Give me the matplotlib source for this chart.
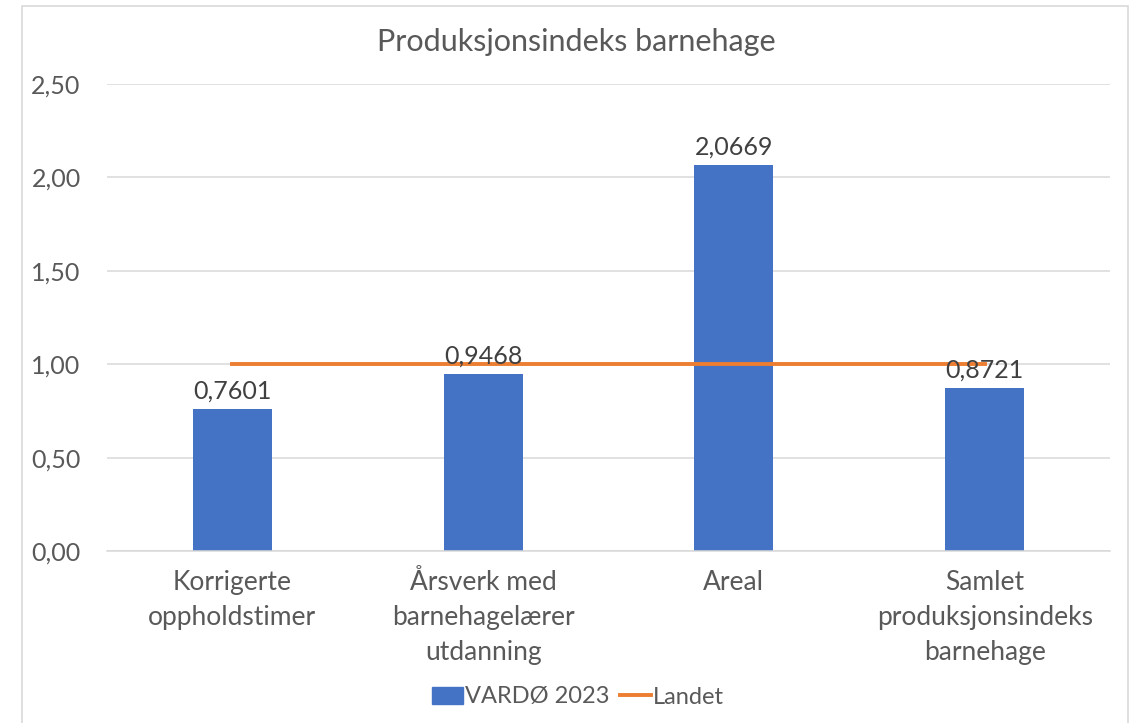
import matplotlib
matplotlib.use("Agg")
import matplotlib.pyplot as plt
from matplotlib.patches import Rectangle
from matplotlib.lines import Line2D

kategorier = ["Korrigerte\noppholdstimer", "Årsverk med\nbarnehagelærer\nutdanning",
              "Areal", "Samlet\nproduksjonsindeks\nbarnehage"]
vardo_2023 = [0.7601, 0.9468, 2.0669, 0.8721]
landet = [1.0, 1.0, 1.0, 1.0]
y_ticks = [0.0, 0.5, 1.0, 1.5, 2.0, 2.5]

plt.rcParams['font.family'] = ['Lato', 'DejaVu Sans']
tekst = '#595959'

fig = plt.figure(figsize=(11.35, 7.23), dpi=100)
ax = fig.add_axes([0.0943, 0.2379, 0.8837, 0.6459])

# ramme rundt hele diagrammet
fig.patches.append(Rectangle((22/1135, -0.01), (1128-22)/1135, (717)/723 + 0.01,
                             transform=fig.transFigure, fill=False,
                             edgecolor='#d9d9d9', linewidth=1.2))

x = range(len(kategorier))
ax.bar(x, vardo_2023, width=0.315, color='#4472c4', zorder=2)
ax.plot(list(x), landet, color='#ed7d31', linewidth=2.8, zorder=3)

for i, v in enumerate(vardo_2023):
    ax.text(i, v + 0.035, f"{v:.4f}".replace('.', ','), ha='center', va='bottom',
            fontsize=18, color='#404040', zorder=4)

ax.set_xlim(-0.5, 3.5)
ax.set_ylim(0, 2.5)
ax.set_yticks(y_ticks)
ax.set_yticklabels([f"{t:.2f}".replace('.', ',') for t in y_ticks])
ax.set_xticks(list(x))
ax.set_xticklabels(kategorier, linespacing=1.5)
ax.tick_params(axis='both', length=0, labelsize=18, labelcolor=tekst)
ax.tick_params(axis='x', labelsize=19, pad=14)
ax.tick_params(axis='y', pad=19)
ax.grid(axis='y', color='#d9d9d9', linewidth=1.1, zorder=0)
for s in ['top', 'right', 'left']:
    ax.spines[s].set_visible(False)
ax.spines['bottom'].set_color('#d9d9d9')
ax.spines['bottom'].set_linewidth(1.1)

fig.text(576/1135, 1 - 42/723, "Produksjonsindeks barnehage", ha='center', va='center',
         fontsize=22, color=tekst)

handles = [Rectangle((0, 0), 1, 1, color='#4472c4'),
           Line2D([0], [0], color='#ed7d31', linewidth=2.8)]
fig.legend(handles, ["VARDØ 2023", "Landet"], loc='center', bbox_to_anchor=(578/1135, 1 - 697/723),
           ncol=2, frameon=False, fontsize=17, labelcolor=tekst, handlelength=1.3,
           handletextpad=0.1, columnspacing=0.45)

fig.savefig("out.png", dpi=100)
